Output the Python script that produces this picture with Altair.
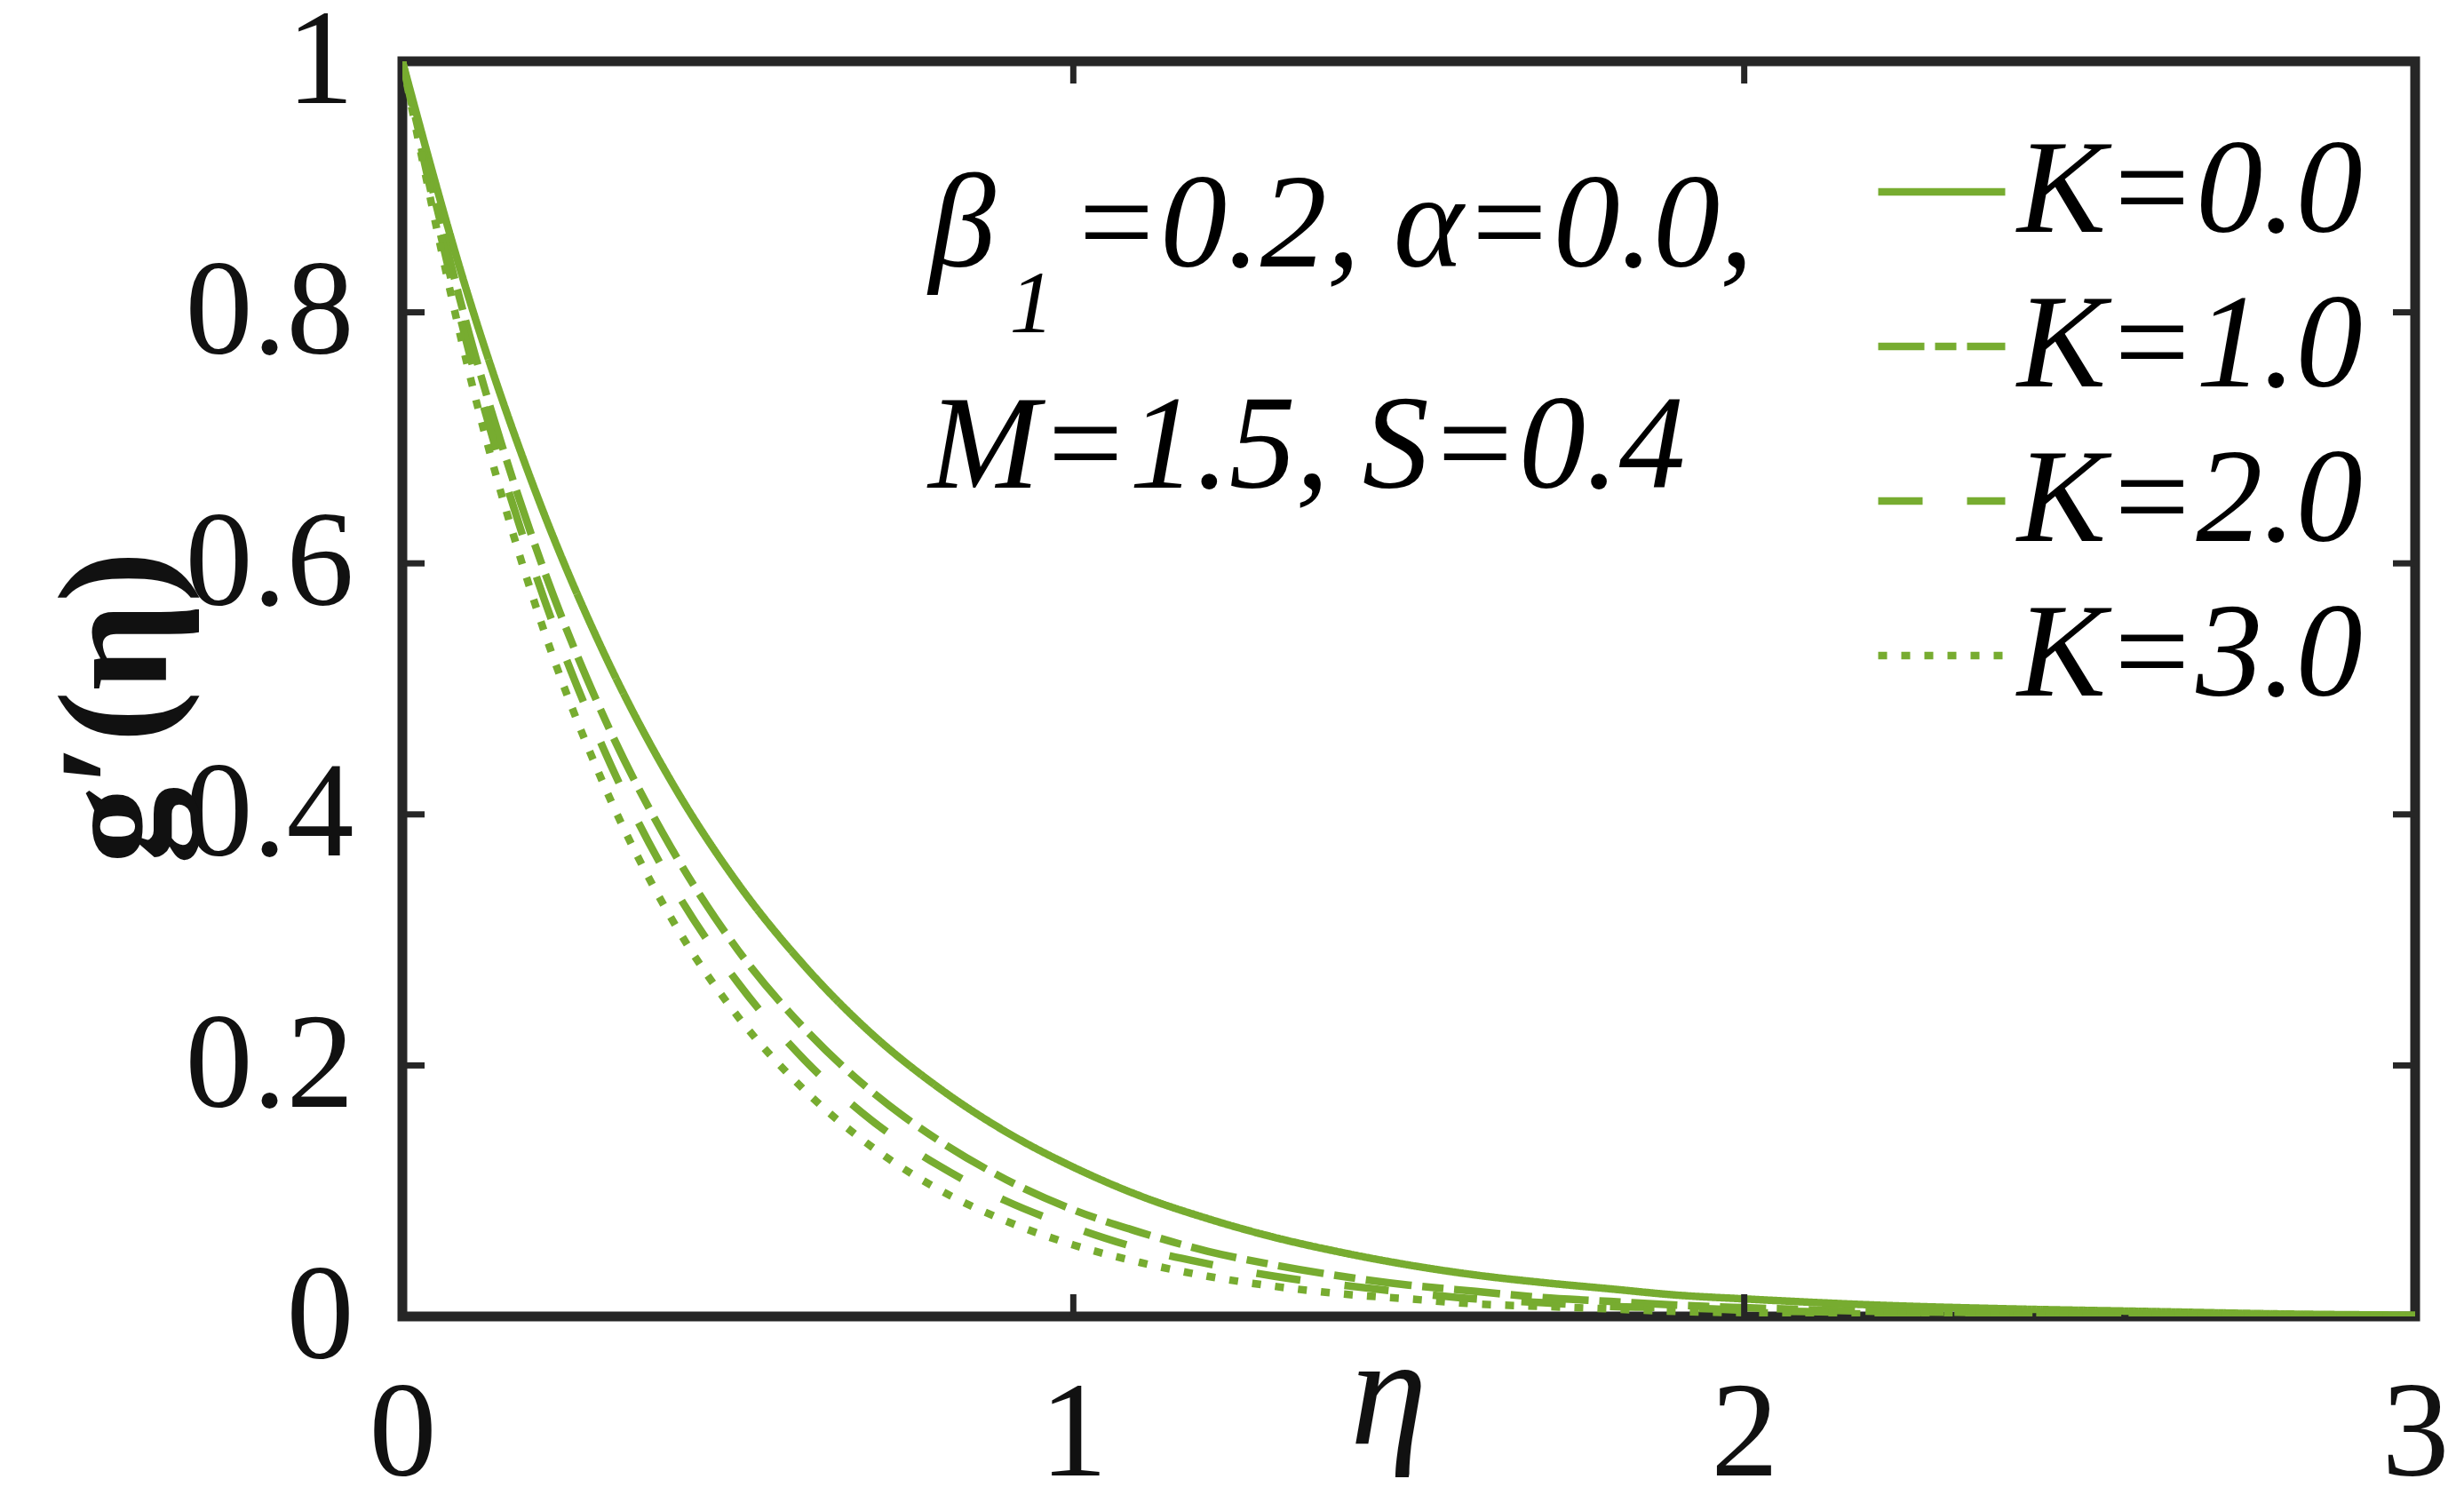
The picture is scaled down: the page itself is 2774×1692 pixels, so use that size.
import altair as alt
import pandas as pd

# ---- data ----
eta = [0.0, 0.1, 0.2, 0.3, 0.4, 0.5, 0.6, 0.7, 0.8, 0.9, 1.0, 1.1, 1.2, 1.3,
       1.4, 1.5, 1.6, 1.7, 1.8, 1.9, 2.0, 2.2, 2.4, 2.6, 2.8, 3.0]
g_K0 = [1.000, 0.810, 0.655, 0.529, 0.427, 0.345, 0.279, 0.225, 0.182, 0.147, 0.119, 0.096, 0.078,
        0.063, 0.051, 0.041, 0.033, 0.027, 0.022, 0.017, 0.014, 0.009, 0.006, 0.004, 0.002, 0.001]
g_K1 = [1.000, 0.782, 0.611, 0.478, 0.374, 0.292, 0.229, 0.179, 0.140, 0.109, 0.085, 0.067, 0.052,
        0.041, 0.032, 0.025, 0.020, 0.015, 0.012, 0.009, 0.007, 0.004, 0.003, 0.002, 0.001, 0.000]
g_K2 = [1.000, 0.767, 0.589, 0.452, 0.346, 0.266, 0.204, 0.156, 0.120, 0.092, 0.071, 0.054, 0.042,
        0.032, 0.025, 0.019, 0.014, 0.011, 0.008, 0.007, 0.005, 0.003, 0.002, 0.001, 0.000, 0.000]
g_K3 = [1.000, 0.751, 0.564, 0.424, 0.318, 0.239, 0.180, 0.135, 0.101, 0.076, 0.057, 0.043, 0.032,
        0.024, 0.018, 0.014, 0.010, 0.008, 0.006, 0.004, 0.003, 0.002, 0.001, 0.000, 0.000, 0.000]
series_labels = ["K=0.0", "K=1.0", "K=2.0", "K=3.0"]
x_ticks = [0, 1, 2, 3]
y_ticks = [0, 0.2, 0.4, 0.6, 0.8, 1]
x_inner_ticks = [1, 2]
y_inner_ticks = [0.2, 0.4, 0.6, 0.8]

rows = []
for lab, vals in zip(series_labels, [g_K0, g_K1, g_K2, g_K3]):
    for e, v in zip(eta, vals):
        rows.append({"eta": e, "g": v, "K": lab})
df = pd.DataFrame(rows)

GREEN = "#77AC30"
FRAME = "#262626"
SERIF = "Liberation Serif, Times New Roman, Times, serif"
dashes = [[1, 0], [52, 12, 24, 12], [50, 50], [10, 16]]
LW = 8.5

xscale = alt.Scale(domain=[0, 3], nice=False, zero=False)
yscale = alt.Scale(domain=[0, 1], nice=False, zero=False)

lines = alt.Chart(df).mark_line(color=GREEN, strokeWidth=LW, interpolate="monotone", clip=True).encode(
    x=alt.X("eta:Q", scale=xscale, axis=alt.Axis(
        values=x_ticks, format="~g", ticks=False, tickSize=0, domain=False, grid=False,
        labelFont=SERIF, labelFontSize=152, labelColor="#111111", labelPadding=58,
        labelFlush=False, labelOverlap=False, labelLimit=1000,
        title="η", titleFont=SERIF, titleFontSize=175, titleFontStyle="italic",
        titleFontWeight="normal", titleColor="#111111",
        titleX=1110, titleY=143, titleAlign="center", titleBaseline="alphabetic")),
    y=alt.Y("g:Q", scale=yscale, axis=alt.Axis(
        values=y_ticks, format="~g", ticks=False, tickSize=0, domain=False, grid=False,
        labelFont=SERIF, labelFontSize=152, labelColor="#111111", labelPadding=55,
        labelOverlap=False, labelLimit=1000,
        title="g′(η)", titleFont=SERIF, titleFontSize=175, titleFontWeight="bold",
        titleColor="#111111", titleAngle=270, titleLimit=2000,
        titleX=-320, titleY=727, titleAlign="center", titleBaseline="middle")),
    strokeDash=alt.StrokeDash("K:N", scale=alt.Scale(domain=series_labels, range=dashes),
                              legend=alt.Legend(
                                  title=None, orient="none", legendX=1657, legendY=71,
                                  symbolType="stroke", symbolSize=20449, symbolStrokeWidth=LW,
                                  symbolStrokeColor=GREEN, labelFont=SERIF, labelFontSize=150,
                                  labelFontStyle="italic", labelColor="#000000", labelOffset=9,
                                  rowPadding=23, padding=0, labelLimit=1000)),
)

xt = pd.DataFrame({"eta": x_inner_ticks})
yt = pd.DataFrame({"g": y_inner_ticks})

tk = dict(size=25, thickness=7, color=FRAME, opacity=1)
tick_bottom = alt.Chart(xt).mark_tick(orient="vertical", yOffset=-12.5, **tk).encode(
    x="eta:Q", y=alt.datum(0))
tick_top = alt.Chart(xt).mark_tick(orient="vertical", yOffset=12.5, **tk).encode(
    x="eta:Q", y=alt.datum(1))
tick_left = alt.Chart(yt).mark_tick(orient="horizontal", xOffset=12.5, **tk).encode(
    y="g:Q", x=alt.datum(0))
tick_right = alt.Chart(yt).mark_tick(orient="horizontal", xOffset=-12.5, **tk).encode(
    y="g:Q", x=alt.datum(3))

one = alt.Data(values=[{"a": 0}])


def label(txt, x, y, size=150):
    return alt.Chart(one).mark_text(text=txt, font=SERIF, fontSize=size, fontStyle="italic",
                                    align="left", baseline="alphabetic", color="#000000").encode(
        x=alt.datum(x), y=alt.datum(y))


ann = (label("β", 0.785, 0.8365) + label("1", 0.905, 0.784, 100)
       + label("=0.2, α=0.0,", 0.9956, 0.8365) + label("M=1.5, S=0.4", 0.784, 0.660))

chart = alt.layer(lines, tick_bottom, tick_top, tick_left, tick_right, ann).properties(
    width=2266, height=1413,
    autosize=alt.AutoSizeParams(type="none"),
    padding={"left": 445, "top": 61, "right": 47, "bottom": 202},
    background="white",
).configure_view(stroke=FRAME, strokeWidth=11)

chart.save("out.html", embed_options={"renderer": "svg", "actions": False})
